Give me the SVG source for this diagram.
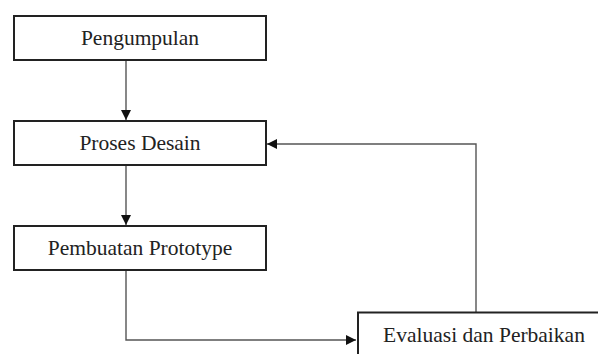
<svg xmlns="http://www.w3.org/2000/svg" width="598" height="354" viewBox="0 0 598 354">
<style>
.box{fill:#fff;stroke:#222;stroke-width:2}
.lbl{font-size:21.5px;fill:#222;text-anchor:middle}
.con{fill:none;stroke:#555;stroke-width:1.4}
</style>
<defs>
<marker id="ah" viewBox="0 0 10 10" refX="10" refY="5" markerWidth="10" markerHeight="10" markerUnits="userSpaceOnUse" orient="auto">
<path d="M0,0 L10,5 L0,10 Z" fill="#111"/>
</marker>
</defs>
<rect width="598" height="354" fill="#fff"/>
<g id="connectors">
<path class="con" d="M126,61 V120" marker-end="url(#ah)"/>
<path class="con" d="M126,166 V225" marker-end="url(#ah)"/>
<path class="con" d="M126,271 V340 H356" marker-end="url(#ah)"/>
<path class="con" d="M476,312 V144 H267" marker-end="url(#ah)"/>
</g>
<g font-family="'Liberation Serif', 'Times New Roman', serif">
<g id="pengumpulan">
<rect class="box" x="14" y="16" width="252" height="44"/>
<text class="lbl" x="140" y="44.5">Pengumpulan</text>
</g>
<g id="proses-desain">
<rect class="box" x="14" y="121" width="252" height="44"/>
<text class="lbl" x="140" y="150">Proses Desain</text>
</g>
<g id="pembuatan-prototype">
<rect class="box" x="14" y="226" width="252" height="44"/>
<text class="lbl" x="140" y="255">Pembuatan Prototype</text>
</g>
<g id="evaluasi">
<rect class="box" x="358" y="312.5" width="250" height="50"/>
<text class="lbl" x="484" y="342">Evaluasi dan Perbaikan</text>
</g>
</g>
</svg>
